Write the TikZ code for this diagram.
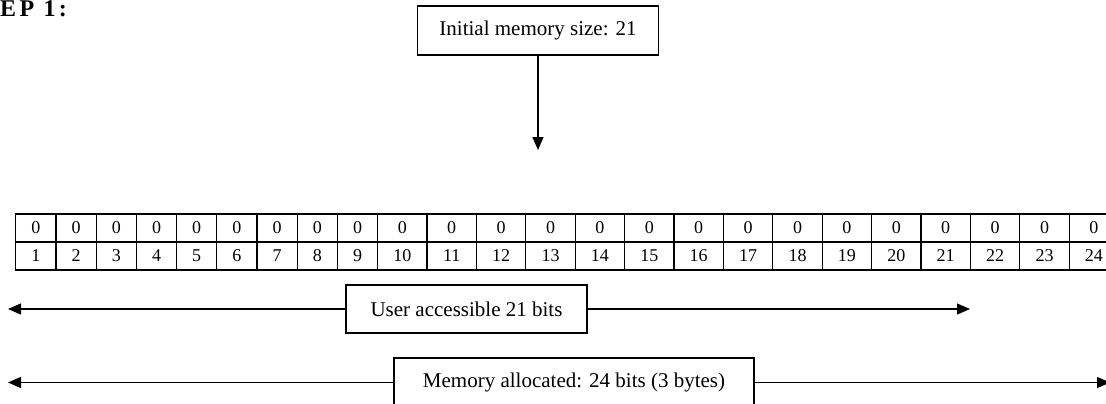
\documentclass[tikz,border=0pt]{standalone}
\usepackage{fontspec}
\setmainfont{Liberation Serif}
\usetikzlibrary{matrix,arrows.meta}

\tikzset{
  box/.style={draw, line width=1.3pt, inner sep=0pt, font=\fontsize{21}{24}\selectfont},
  cell/.style={draw, line width=1.3pt, minimum width=49.4pt, minimum height=28pt, inner sep=0pt, font=\fontsize{18}{20}\selectfont},
  narrow/.style={nodes={minimum width=40.2pt}},
  conn/.style={line width=1.3pt, -{Triangle[length=13pt,width=11pt]}}
}

\begin{document}
\begin{tikzpicture}[x=1pt, y=-1pt]
\useasboundingbox (0,0) rectangle (1106,404);
\clip (0,0) rectangle (1106,404);
\node (step) [anchor=base west, inner sep=0pt, font=\fontsize{24}{26}\selectfont\bfseries\addfontfeatures{LetterSpace=14}] at (0,17) {EP 1:};
\node (init) [box, minimum width=241pt, minimum height=49pt] at (538,30.5) {Initial memory size: 21};
\coordinate (tip) at (538,150);
\draw[conn] (init.south) -- (tip);
\matrix (m) [matrix of nodes, anchor=north west, inner sep=0pt, column sep=-1.3pt, row sep=-1.3pt, nodes={cell},
  column 1/.style=narrow, column 2/.style=narrow, column 3/.style=narrow,
  column 4/.style=narrow, column 5/.style=narrow, column 6/.style=narrow,
  column 7/.style=narrow, column 8/.style=narrow, column 9/.style=narrow] at (15,213) {
	0 & 0 & 0 & 0 & 0 & 0 & 0 & 0 & 0 & 0  & 0  & 0  & 0  & 0  & 0  & 0  & 0  & 0  & 0  & 0  & 0  & 0  & 0  & 0  \\
	1 & 2 & 3 & 4 & 5 & 6 & 7 & 8 & 9 & 10 & 11 & 12 & 13 & 14 & 15 & 16 & 17 & 18 & 19 & 20 & 21 & 22 & 23 & 24 \\
};
\node (user) [box, minimum width=241pt, minimum height=48pt] at (466.5,309) {User accessible 21 bits};
\coordinate (user-l) at (8,309);
\coordinate (user-r) at (970,309);
\draw[conn] (user.west) -- (user-l);
\draw[conn] (user.east) -- (user-r);
\node (mem) [box, minimum width=360pt, minimum height=49pt] at (574,382.5) {Memory allocated: 24 bits (3 bytes)};
\coordinate (mem-l) at (8,382.5);
\coordinate (mem-r) at (1110,382.5);
\draw[conn] (mem.west) -- (mem-l);
\draw[conn] (mem.east) -- (mem-r);
\end{tikzpicture}
\end{document}
